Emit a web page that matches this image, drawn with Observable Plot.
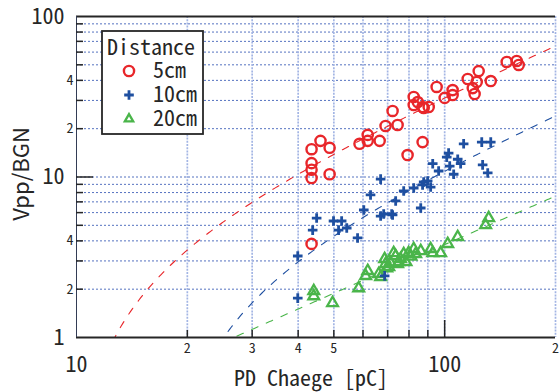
<!DOCTYPE html>
<html><head><meta charset="utf-8">
<script src="https://cdn.jsdelivr.net/npm/d3@7"></script>
<script src="https://cdn.jsdelivr.net/npm/@observablehq/plot@0.6"></script>
<style>
html,body{margin:0;padding:0;background:#fff;}
#chart{position:relative;width:560px;height:392px;}
</style></head><body><div id="chart"></div>
<script>
// ---- data ----
const seriesNames = ["5cm", "10cm", "20cm"];
const seriesColors = ["#e8262a", "#1e4fa0", "#4ab54a"];

const red5X = [43.5,46.0,48.7,43.5,43.5,43.5,48.7,58.7,61.8,61.8,66.6,69.1,72.2,74.5,79.3,82.4,82.4,84.5,87.1,87.7,90.5,87.1,95.1,100,105.1,105.1,115.5,123.7,122.2,119.2,120.6,133.4,147.4,156.9,158.9,43.5];
const red5Y = [14.9,16.8,15.2,12.2,11.1,9.86,10.4,16.1,18.3,16.8,16.8,20.8,25.8,21.1,13.7,31.5,28.1,29.3,27.3,26.9,27.3,16.5,36.4,31.1,34.8,32.4,40.8,45.7,39.1,35.8,32.9,39.6,52.1,52.8,49.9,3.83];

const blue10X = [112.6,126.1,133.4,126.8,130.9,102.5,101.3,108.5,110.5,103.2,105.8,92.8,96.3,67.0,62.9,77.4,82.4,87.7,89.9,87.1,91.6,73.6,72.2,86.1,60.3,67.0,68.3,71.8,44.9,49.9,52.5,51.5,54.2,43.8,58.0,39.9,39.9,68.7];
const blue10Y = [16.1,16.5,16.5,11.9,10.6,14.1,13.3,12.9,12.1,11.7,10.4,12.1,10.9,9.7,7.73,8.18,8.54,9.31,9.45,8.92,8.66,7.09,5.8,6.41,6.23,5.71,5.88,5.88,5.55,5.32,5.32,4.67,4.81,4.67,4.17,3.22,1.76,2.42];

const green20X = [44.1,44.1,49.6,58.4,61.8,61.0,66.2,67.0,68.7,69.1,72.7,73.6,75.9,71.3,74.5,77.4,79.8,82.4,83.4,86.1,91.6,92.8,97.5,101.9,108.5,129.2,131.7,69.6,75.0,78.5,70.5,81.0];
const green20Y = [1.95,1.81,1.64,2.03,2.60,2.42,2.49,2.38,3.08,2.87,3.36,3.22,3.08,2.91,2.87,3.31,3.36,3.56,3.31,3.46,3.56,3.36,3.36,3.83,4.23,5.02,5.55,2.7,2.95,2.95,2.75,3.2];

// fitted lines (y = slope * (x - offset))
const fitSlope = [0.344, 0.1315, 0.0381];
const fitOffset = [9.8, 17.5, 0.5];

// ticks / labels
const xMinorTicks = [20,30,40,50,60,70,80,90,200];
const xMinorLabels = ["2","3","4","5","6","7","8","9","2"];
const xMajorTicks = [10,100];
const xMajorLabels = ["10","100"];
const xGrid = [20,30,40,50,60,70,80,90,100,200];
const yGrid = [2,3,4,5,6,7,8,9,10,20,30,40,50,60,70,80,90];
const yMinorTicks = [2,3,4,5,6,7,8,9,20,30,40,50,60,70,80,90];
const yMinorLabeled = [2,4,6,8,20,40,60,80];
const yMinorLabels = ["2","4","6","8","2","4","6","8"];
const yMajorTicks = [1,10,100];
const yMajorLabels = ["1","10","100"];

const xTitle = "PD Chaege [pC]";
const yTitle = "Vpp/BGN";
const legendTitle = "Distance";

// ---- build tables ----
const pts5 = red5X.map((x,i)=>({x, y: red5Y[i]}));
const pts10 = blue10X.map((x,i)=>({x, y: blue10Y[i]}));
const pts20 = green20X.map((x,i)=>({x, y: green20Y[i]}));
const fitPts = [];
seriesNames.forEach((s, k) => {
  for (let i = 0; i <= 300; i++) {
    const x = 10 * Math.pow(20, i/300);
    const y = fitSlope[k] * (x - fitOffset[k]);
    if (y > 0.3) fitPts.push({s, x, y});
  }
});

const mono = "'Noto Sans Mono CJK JP', 'DejaVu Sans Mono', monospace";
const W = 560, H = 392, ML = 76, MR = 5, MT = 16, MB = 55;
const PW = W - ML - MR, PH = H - MT - MB;
const dark = "#262626";
const xMinMap = new Map(xMinorTicks.map((d,i)=>[d, xMinorLabels[i]]));
const xMajMap = new Map(xMajorTicks.map((d,i)=>[d, xMajorLabels[i]]));
const yMinMap = new Map(yMinorLabeled.map((d,i)=>[d, yMinorLabels[i]]));
const yMajMap = new Map(yMajorTicks.map((d,i)=>[d, yMajorLabels[i]]));

const rs = [5.1, 3.2, 4.0];
const sws = [2.4, 2.8, 2.3];

const plot = Plot.plot({
  width: W, height: H,
  marginLeft: ML, marginRight: MR, marginTop: MT, marginBottom: MB,
  x: {type: "log", domain: [10, 200], axis: null},
  y: {type: "log", domain: [1, 100], axis: null},
  style: {background: "#fff", color: dark, overflow: "visible"},
  marks: [
    Plot.ruleY(yGrid, {stroke: "#5572c0", strokeWidth: 1, strokeDasharray: "2,2"}),
    Plot.ruleX(xGrid, {stroke: "#a3b5e4", strokeWidth: 1.7, strokeDasharray: "2,1.2"}),
    Plot.line(fitPts, {x: "x", y: "y", z: "s", stroke: d => seriesColors[seriesNames.indexOf(d.s)], strokeWidth: 1.1, strokeDasharray: "7,9", clip: true}),
    Plot.dot(pts20, {x: "x", y: "y", symbol: "triangle", r: rs[2], stroke: seriesColors[2], strokeWidth: sws[2], fill: "none"}),
    Plot.dot(pts10, {x: "x", y: "y", symbol: "plus", r: rs[1], stroke: seriesColors[1], strokeWidth: sws[1], fill: "none"}),
    Plot.dot(pts5, {x: "x", y: "y", symbol: "circle", r: rs[0], stroke: seriesColors[0], strokeWidth: sws[0], fill: "none"}),
    // frame
    Plot.ruleY([100], {stroke: dark, strokeWidth: 1.8}),
    Plot.ruleY([1], {stroke: dark, strokeWidth: 1.8}),
    Plot.ruleX([10], {stroke: "#333c55", strokeWidth: 1}),
    // inward ticks
    Plot.tickX(xMinorTicks.slice(0, 8), {x: d => d, stroke: dark, strokeWidth: 1.5, insetTop: PH - 7}),
    Plot.tickX([100], {x: d => d, stroke: dark, strokeWidth: 1.5, insetTop: PH - 17}),
    Plot.tickY(yMinorTicks, {y: d => d, stroke: dark, strokeWidth: 1.5, insetRight: PW - 7}),
    Plot.tickY([10], {y: d => d, stroke: dark, strokeWidth: 1.5, insetRight: PW - 17}),
    // tick labels
    Plot.axisX(xMinorTicks, {tickSize: 0, tickPadding: 6, tickFormat: d => xMinMap.get(d), fontSize: 14, fontFamily: mono, label: null}),
    Plot.axisX(xMajorTicks, {tickSize: 0, tickPadding: 19, tickFormat: d => xMajMap.get(d), fontSize: 22, fontFamily: mono, label: null}),
    Plot.axisY(yMinorLabeled, {tickSize: 0, tickPadding: 3, tickFormat: d => yMinMap.get(d), fontSize: 14, fontFamily: mono, label: null}),
    Plot.axisY(yMajorTicks, {tickSize: 0, tickPadding: 12, tickFormat: d => yMajMap.get(d), fontSize: 22, fontFamily: mono, label: null})
  ]
});

const svg = d3.select(plot);
// axis titles
svg.append("text").attr("x", 311).attr("y", 386).attr("text-anchor", "middle")
  .attr("font-family", mono).attr("font-size", 22).attr("fill", dark).text(xTitle);
svg.append("text").attr("transform", "translate(29,174) rotate(-90)").attr("text-anchor", "middle")
  .attr("font-family", "'Noto Sans CJK JP', 'DejaVu Sans', sans-serif").attr("font-size", 22).attr("fill", dark).text(yTitle);

// legend
const lg = svg.append("g").attr("text-anchor", "start");
lg.append("rect").attr("x", 102).attr("y", 31).attr("width", 101).attr("height", 103)
  .attr("fill", "#fff").attr("stroke", dark).attr("stroke-width", 1.8);
lg.append("text").attr("x", 107).attr("y", 55).attr("text-anchor", "start").attr("font-family", mono).attr("font-size", 22).attr("fill", dark).text(legendTitle);
const symY = [71, 95, 119];
const baseY = [78, 102, 126];
const syms = [d3.symbolCircle, d3.symbolPlus, d3.symbolTriangle2];
seriesNames.forEach((s, i) => {
  lg.append("path").attr("transform", `translate(129,${symY[i]})`)
    .attr("d", d3.symbol(syms[i], Math.PI * rs[i] * rs[i])())
    .attr("fill", "none").attr("stroke", seriesColors[i]).attr("stroke-width", sws[i]);
  lg.append("text").attr("x", 153).attr("y", baseY[i]).attr("text-anchor", "start")
    .attr("font-family", mono).attr("font-size", 22).attr("fill", dark).text(s);
});

document.getElementById("chart").appendChild(plot);
</script></body></html>
